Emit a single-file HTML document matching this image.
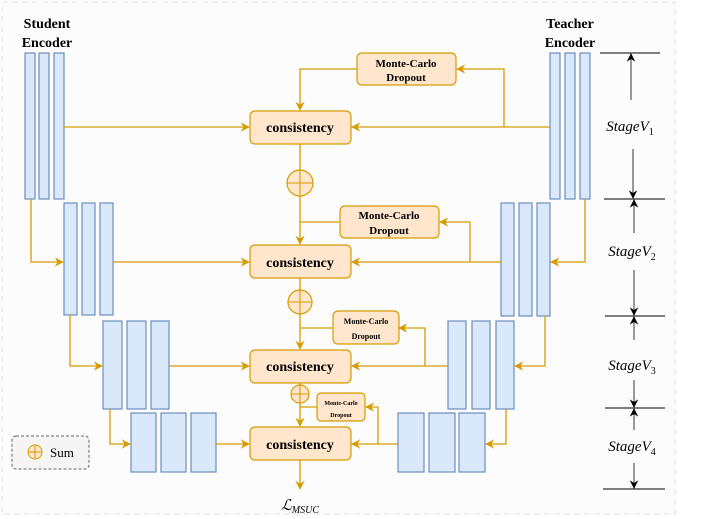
<!DOCTYPE html>
<html><head><meta charset="utf-8"><style>
html,body{margin:0;padding:0;background:#fff}
svg{display:block}
text{font-family:"Liberation Serif",serif}
</style></head><body>
<svg width="705" height="519" viewBox="0 0 705 519" xmlns="http://www.w3.org/2000/svg">
<defs>
<marker id="a" viewBox="0 0 10 10" refX="9" refY="5" markerWidth="7" markerHeight="7" orient="auto-start-reverse"><path d="M0,0 L10,5 L0,10 L3,5 z" fill="#d79b00"/></marker>
<marker id="k" viewBox="0 0 10 10" refX="9" refY="5" markerWidth="7" markerHeight="7" orient="auto-start-reverse"><path d="M0,0 L10,5 L0,10 L3,5 z" fill="#000"/></marker>
</defs>
<rect x="0" y="0" width="705" height="519" fill="#fff"/>
<rect x="2" y="2" width="673" height="512" fill="#fcfcfc" stroke="#f0d8e0" stroke-dasharray="6,4"/>

<text x="47" y="28" font-size="14" font-weight="bold" text-anchor="middle">Student</text>
<text x="47" y="47" font-size="14" font-weight="bold" text-anchor="middle">Encoder</text>
<text x="570" y="28" font-size="14" font-weight="bold" text-anchor="middle">Teacher</text>
<text x="570" y="47" font-size="14" font-weight="bold" text-anchor="middle">Encoder</text>

<g fill="#dae8fc" stroke="#6c8ebf" stroke-width="1.2">
<rect x="25" y="53" width="10" height="146"/><rect x="39" y="53" width="10" height="146"/><rect x="54" y="53" width="10" height="146"/>
<rect x="64" y="203" width="13" height="112"/><rect x="82" y="203" width="13" height="112"/><rect x="100" y="203" width="13" height="112"/>
<rect x="103" y="321" width="19" height="88"/><rect x="127" y="321" width="19" height="88"/><rect x="151" y="321" width="18" height="88"/>
<rect x="131" y="413" width="25" height="59"/><rect x="161" y="413" width="25" height="59"/><rect x="191" y="413" width="25" height="59"/>
<rect x="550" y="53" width="10" height="146"/><rect x="565" y="53" width="10" height="146"/><rect x="580" y="53" width="10" height="146"/>
<rect x="501" y="203" width="13" height="113"/><rect x="519" y="203" width="13" height="113"/><rect x="537" y="203" width="13" height="113"/>
<rect x="448" y="321" width="18" height="88"/><rect x="472" y="321" width="18" height="88"/><rect x="496" y="321" width="18" height="88"/>
<rect x="398" y="413" width="26" height="59"/><rect x="429" y="413" width="26" height="59"/><rect x="459" y="413" width="26" height="59"/>
</g>

<g stroke="#d79b00" stroke-width="1.3" fill="none">
<!-- student horizontals -->
<line x1="64" y1="127" x2="249" y2="127" marker-end="url(#a)"/>
<line x1="113" y1="262" x2="249" y2="262" marker-end="url(#a)"/>
<line x1="169" y1="366" x2="249" y2="366" marker-end="url(#a)"/>
<line x1="216" y1="444" x2="249" y2="444" marker-end="url(#a)"/>
<!-- teacher horizontals -->
<line x1="550" y1="127" x2="352" y2="127" marker-end="url(#a)"/>
<line x1="501" y1="262" x2="352" y2="262" marker-end="url(#a)"/>
<line x1="448" y1="366" x2="352" y2="366" marker-end="url(#a)"/>
<line x1="398" y1="444" x2="352" y2="444" marker-end="url(#a)"/>
<!-- skips -->
<polyline points="31,199 31,262 63,262" marker-end="url(#a)"/>
<polyline points="70,315 70,366 102,366" marker-end="url(#a)"/>
<polyline points="110,409 110,444 130,444" marker-end="url(#a)"/>
<polyline points="585,199 585,262 551,262" marker-end="url(#a)"/>
<polyline points="545,316 545,366 515,366" marker-end="url(#a)"/>
<polyline points="506,409 506,444 486,444" marker-end="url(#a)"/>
<!-- MC branches -->
<polyline points="504,127 504,69 457,69" marker-end="url(#a)"/>
<polyline points="470,262 470,222 440,222" marker-end="url(#a)"/>
<polyline points="425,366 425,328 399,328" marker-end="url(#a)"/>
<polyline points="378,444 378,407 366,407" marker-end="url(#a)"/>
<polyline points="357,69 300,69 300,110" marker-end="url(#a)"/>
<line x1="340" y1="222" x2="300" y2="222"/>
<line x1="333" y1="328" x2="300" y2="328"/>
<line x1="317" y1="407" x2="300" y2="407"/>
<!-- center -->
<line x1="300" y1="144" x2="300" y2="170"/>
<line x1="300" y1="196" x2="300" y2="244" marker-end="url(#a)"/>
<line x1="300" y1="278" x2="300" y2="290"/>
<line x1="300" y1="314" x2="300" y2="349" marker-end="url(#a)"/>
<line x1="300" y1="383" x2="300" y2="385"/>
<line x1="300" y1="403" x2="300" y2="426" marker-end="url(#a)"/>
<line x1="300" y1="460" x2="300" y2="489" marker-end="url(#a)"/>
</g>

<g fill="#ffe6cc" stroke="#d79b00" stroke-width="1.2">
<rect x="250" y="111" width="101" height="33" rx="5"/>
<rect x="250" y="245" width="101" height="33" rx="5"/>
<rect x="250" y="350" width="101" height="33" rx="5"/>
<rect x="250" y="427" width="101" height="33" rx="5"/>
<rect x="357" y="53" width="99" height="32" rx="5"/>
<rect x="340" y="206" width="99" height="32" rx="5"/>
<rect x="333" y="311" width="66" height="33" rx="5"/>
<rect x="317" y="393" width="48" height="28" rx="4"/>
<circle cx="300" cy="183" r="13"/><circle cx="300" cy="302" r="12"/><circle cx="300" cy="394" r="9"/>
</g>
<g stroke="#d79b00" stroke-width="1.1">
<line x1="287" y1="183" x2="313" y2="183"/><line x1="300" y1="170" x2="300" y2="196"/>
<line x1="288" y1="302" x2="312" y2="302"/><line x1="300" y1="290" x2="300" y2="314"/>
<line x1="291" y1="394" x2="309" y2="394"/><line x1="300" y1="385" x2="300" y2="403"/>
</g>

<g font-weight="bold" text-anchor="middle">
<text x="300" y="132" font-size="14">consistency</text>
<text x="300" y="267" font-size="14">consistency</text>
<text x="300" y="371" font-size="14">consistency</text>
<text x="300" y="449" font-size="14">consistency</text>
<text x="406" y="67" font-size="11">Monte-Carlo</text><text x="406" y="81" font-size="11">Dropout</text>
<text x="389" y="219" font-size="11">Monte-Carlo</text><text x="389" y="234" font-size="11">Dropout</text>
<text x="366" y="324" font-size="8">Monte-Carlo</text><text x="366" y="339" font-size="8">Dropout</text>
<text x="341" y="405" font-size="6">Monte-Carlo</text><text x="341" y="417" font-size="6">Dropout</text>
</g>

<text x="300" y="510" font-size="15" font-style="italic" text-anchor="middle">ℒ<tspan font-size="10" dy="3">MSUC</tspan></text>

<!-- legend -->
<rect x="12" y="436" width="77" height="33" rx="4" fill="#f5f5f5" stroke="#666" stroke-dasharray="3,2"/>
<circle cx="35" cy="452" r="7" fill="#ffe6cc" stroke="#d79b00"/>
<line x1="28" y1="452" x2="42" y2="452" stroke="#d79b00"/><line x1="35" y1="445" x2="35" y2="459" stroke="#d79b00"/>
<text x="50" y="457" font-size="13">Sum</text>

<!-- stage markers -->
<g stroke="#000" stroke-width="1">
<line x1="600" y1="53" x2="660" y2="53"/><line x1="604" y1="199" x2="665" y2="199"/>
<line x1="605" y1="316" x2="665" y2="316"/><line x1="605" y1="408" x2="665" y2="408"/>
<line x1="603" y1="489" x2="665" y2="489"/>
</g>
<g stroke="#555" stroke-width="1.2">
<line x1="631" y1="100" x2="631" y2="54" marker-end="url(#k)"/>
<line x1="633" y1="149" x2="633" y2="198" marker-end="url(#k)"/>
<line x1="634" y1="233" x2="634" y2="200" marker-end="url(#k)"/>
<line x1="634" y1="270" x2="634" y2="315" marker-end="url(#k)"/>
<line x1="634" y1="340" x2="634" y2="317" marker-end="url(#k)"/>
<line x1="634" y1="380" x2="634" y2="407" marker-end="url(#k)"/>
<line x1="634" y1="430" x2="634" y2="409" marker-end="url(#k)"/>
<line x1="634" y1="463" x2="634" y2="488" marker-end="url(#k)"/>
</g>
<g font-size="15" font-style="italic" text-anchor="middle">
<text x="630" y="131">StageV<tspan font-size="10" font-style="normal" dy="4">1</tspan></text>
<text x="632" y="256">StageV<tspan font-size="10" font-style="normal" dy="4">2</tspan></text>
<text x="632" y="370">StageV<tspan font-size="10" font-style="normal" dy="4">3</tspan></text>
<text x="632" y="451">StageV<tspan font-size="10" font-style="normal" dy="4">4</tspan></text>
</g>
</svg>
</body></html>
